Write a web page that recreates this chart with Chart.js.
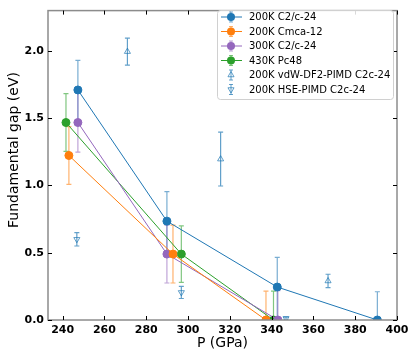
<!DOCTYPE html>
<html>
<head>
<meta charset="utf-8">
<script src="https://cdn.jsdelivr.net/npm/chart.js@4.4.1/dist/chart.umd.min.js"></script>
<style>
  body { margin: 0; background: #fff; }
  canvas { display: block; }
</style>
</head>
<body>
<canvas id="gapChart" width="415" height="356"></canvas>
<script>
// series data
const c2c200P = [247.3, 289.9, 342.7, 390.6];
const c2c200Gap = [1.71, 0.735, 0.245, 0.0];
const c2c200Err = [0.22, 0.22, 0.22, 0.21];

const cmcaP = [243.0, 292.8, 337.3];
const cmcaGap = [1.223, 0.49, 0.0];
const cmcaErr = [0.215, 0.215, 0.215];

const c2c300P = [247.3, 289.9, 343.0];
const c2c300Gap = [1.468, 0.49, 0.0];
const c2c300Err = [0.22, 0.215, 0.218];

const pc48P = [241.6, 296.8, 340.9];
const pc48Gap = [1.468, 0.49, 0.0];
const pc48Err = [0.215, 0.21, 0.215];

const vdwP = [271.0, 315.6, 367.0];
const vdwGap = [1.995, 1.196, 0.29];
const vdwErr = [0.1, 0.2, 0.05];

const hseP = [246.8, 296.8, 346.9];
const hseGap = [0.60, 0.205, 0.012];
const hseErr = [0.05, 0.045, 0.01];

const xTicks = [240, 260, 280, 300, 320, 340, 360, 380, 400];
const yTicks = [0, 0.5, 1.0, 1.5, 2.0];

const BLUE = "#1f77b4";
const ORANGE = "#ff7f0e";
const PURPLE = "#9467bd";
const GREEN = "#2ca02c";
const LIGHTBLUE = "rgba(31,119,180,0.7)";

function pts(xs, ys) {
  return xs.map((x, i) => ({ x: x, y: ys[i] }));
}

function hexAlpha(hex, a) {
  const n = parseInt(hex.slice(1), 16);
  return "rgba(" + (n >> 16) + "," + ((n >> 8) & 255) + "," + (n & 255) + "," + a + ")";
}

const series = [
  { label: "200K C2/c-24", P: c2c200P, gap: c2c200Gap, err: c2c200Err, color: BLUE, line: true, style: "circle" },
  { label: "200K Cmca-12", P: cmcaP, gap: cmcaGap, err: cmcaErr, color: ORANGE, line: true, style: "circle" },
  { label: "300K C2/c-24", P: c2c300P, gap: c2c300Gap, err: c2c300Err, color: PURPLE, line: true, style: "circle" },
  { label: "430K Pc48", P: pc48P, gap: pc48Gap, err: pc48Err, color: GREEN, line: true, style: "circle" },
  { label: "200K vdW-DF2-PIMD C2c-24", P: vdwP, gap: vdwGap, err: vdwErr, color: LIGHTBLUE, line: false, style: "triangle", rot: 0 },
  { label: "200K HSE-PIMD C2c-24", P: hseP, gap: hseGap, err: hseErr, color: LIGHTBLUE, line: false, style: "triangle", rot: 180 },
];

const datasets = series.map((s) => ({
  label: s.label,
  data: pts(s.P, s.gap),
  showLine: s.line,
  borderColor: s.color,
  backgroundColor: s.line ? s.color : "rgba(0,0,0,0)",
  borderWidth: 1,
  pointStyle: s.style,
  rotation: s.rot || 0,
  pointRadius: s.line ? 4 : 3.5,
  pointBorderWidth: 1,
  pointBorderColor: s.color,
  pointBackgroundColor: s.line ? s.color : "rgba(0,0,0,0)",
}));

// small open triangle for the legend
function legendTriangle(ctx, x, y, r, down) {
  const d = down ? -1 : 1;
  ctx.beginPath();
  ctx.moveTo(x, y - d * r);
  ctx.lineTo(x - r * 0.87, y + d * r * 0.5);
  ctx.lineTo(x + r * 0.87, y + d * r * 0.5);
  ctx.closePath();
  ctx.stroke();
}

// error bars, frame with inward ticks, y title, legend box
const extras = {
  id: "extras",
  beforeDatasetsDraw(chart) {
    const ctx = chart.ctx;
    const xs = chart.scales.x;
    const ys = chart.scales.y;
    const area = chart.chartArea;
    ctx.save();
    ctx.beginPath();
    ctx.rect(area.left, area.top, area.right - area.left, area.bottom - area.top);
    ctx.clip();
    ctx.lineWidth = 1.2;
    series.forEach((s) => {
      ctx.strokeStyle = s.line ? hexAlpha(s.color, 0.6) : LIGHTBLUE;
      s.P.forEach((p, i) => {
        const px = xs.getPixelForValue(p);
        const top = ys.getPixelForValue(s.gap[i] + s.err[i]);
        const bot = ys.getPixelForValue(s.gap[i] - s.err[i]);
        ctx.beginPath();
        ctx.moveTo(px, top);
        ctx.lineTo(px, bot);
        ctx.moveTo(px - 2.5, top);
        ctx.lineTo(px + 2.5, top);
        ctx.moveTo(px - 2.5, bot);
        ctx.lineTo(px + 2.5, bot);
        ctx.stroke();
      });
    });
    ctx.restore();
  },
  afterDraw(chart) {
    const ctx = chart.ctx;
    const xs = chart.scales.x;
    const ys = chart.scales.y;
    const a = chart.chartArea;
    ctx.save();
    // frame
    ctx.strokeStyle = "#8c8c8c";
    ctx.lineWidth = 1.5;
    ctx.strokeRect(a.left, a.top, a.right - a.left, a.bottom - a.top);
    // inward ticks on all four sides
    ctx.strokeStyle = "#000";
    ctx.lineWidth = 1;
    ctx.beginPath();
    xTicks.forEach((t) => {
      const px = Math.round(xs.getPixelForValue(t)) + 0.5;
      ctx.moveTo(px, a.bottom);
      ctx.lineTo(px, a.bottom - 4);
      ctx.moveTo(px, a.top);
      ctx.lineTo(px, a.top + 4);
    });
    yTicks.forEach((t) => {
      const py = Math.round(ys.getPixelForValue(t)) + 0.5;
      ctx.moveTo(a.left, py);
      ctx.lineTo(a.left + 4, py);
      ctx.moveTo(a.right, py);
      ctx.lineTo(a.right - 4, py);
    });
    ctx.stroke();

    // y axis title
    ctx.save();
    ctx.translate(14, 150);
    ctx.rotate(-Math.PI / 2);
    ctx.font = "14px 'DejaVu Sans'";
    ctx.fillStyle = "#000";
    ctx.textAlign = "center";
    ctx.textBaseline = "middle";
    ctx.fillText("Fundamental gap (eV)", 0, 0);
    ctx.restore();

    // legend
    const bx = 217, by = 10, bw = 176, bh = 89;
    ctx.fillStyle = "rgba(255,255,255,0.85)";
    ctx.strokeStyle = "#d0d0d0";
    ctx.lineWidth = 1;
    ctx.beginPath();
    ctx.roundRect(bx + 0.5, by + 0.5, bw, bh, 3);
    ctx.fill();
    ctx.stroke();
    ctx.font = "10px 'DejaVu Sans'";
    ctx.textBaseline = "middle";
    ctx.textAlign = "left";
    series.forEach((s, i) => {
      const ry = 17 + i * 14.5;
      const mx = 231;
      ctx.lineWidth = 1;
      if (s.line) {
        ctx.strokeStyle = s.color;
        ctx.beginPath();
        ctx.moveTo(221, ry);
        ctx.lineTo(242, ry);
        ctx.stroke();
      }
      ctx.strokeStyle = s.line ? hexAlpha(s.color, 0.6) : LIGHTBLUE;
      ctx.beginPath();
      ctx.moveTo(mx, ry - 5);
      ctx.lineTo(mx, ry + 5);
      ctx.moveTo(mx - 2, ry - 5);
      ctx.lineTo(mx + 2, ry - 5);
      ctx.moveTo(mx - 2, ry + 5);
      ctx.lineTo(mx + 2, ry + 5);
      ctx.stroke();
      if (s.line) {
        ctx.fillStyle = s.color;
        ctx.beginPath();
        ctx.arc(mx, ry, 4, 0, Math.PI * 2);
        ctx.fill();
      } else {
        ctx.strokeStyle = LIGHTBLUE;
        legendTriangle(ctx, mx, ry, 3.5, s.rot === 180);
      }
      ctx.fillStyle = "#000";
      ctx.fillText(s.label, 249, ry + 0.5);
    });
    ctx.restore();
  },
};

new Chart(document.getElementById("gapChart"), {
  type: "scatter",
  data: { datasets: datasets },
  plugins: [extras],
  options: {
    responsive: false,
    animation: false,
    devicePixelRatio: 1,
    layout: { padding: { top: 4, right: 18, left: 0, bottom: 0 } },
    plugins: { legend: { display: false }, tooltip: { enabled: false } },
    scales: {
      x: {
        type: "linear",
        min: 233,
        max: 400,
        afterBuildTicks: (s) => { s.ticks = xTicks.map((v) => ({ value: v })); },
        afterFit: (s) => { s.height = 36; },
        grid: { display: false, drawTicks: false },
        border: { display: false },
        ticks: {
          padding: 4,
          color: "#000",
          font: { family: "'DejaVu Sans'", size: 11, weight: "bold" },
          maxRotation: 0,
        },
        title: {
          display: true,
          text: "P (GPa)",
          color: "#000",
          padding: { top: 0, bottom: 4 },
          font: { family: "'DejaVu Sans'", size: 14 },
        },
      },
      y: {
        type: "linear",
        min: 0,
        max: 2.3,
        afterBuildTicks: (s) => { s.ticks = yTicks.map((v) => ({ value: v })); },
        afterFit: (s) => { s.width = 48; },
        grid: { display: false, drawTicks: false },
        border: { display: false },
        ticks: {
          padding: 4,
          color: "#000",
          font: { family: "'DejaVu Sans'", size: 11, weight: "bold" },
          callback: (v) => v.toFixed(1),
        },
        title: { display: false },
      },
    },
  },
});
</script>
</body>
</html>
